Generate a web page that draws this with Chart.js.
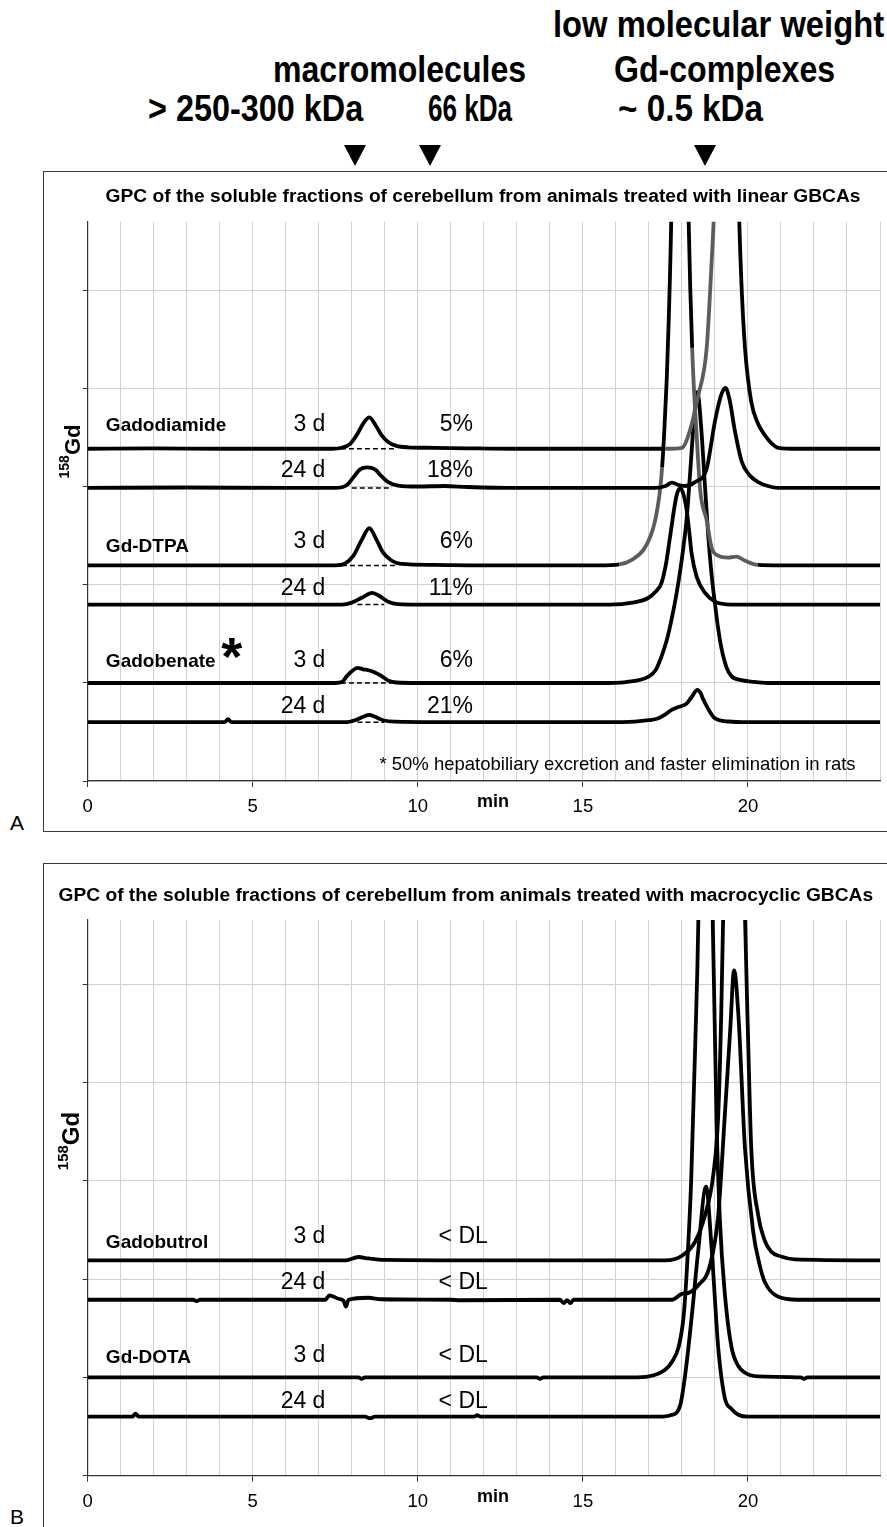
<!DOCTYPE html>
<html>
<head>
<meta charset="utf-8">
<script src="https://cdn.jsdelivr.net/npm/chart.js@4.4.1/dist/chart.umd.min.js"></script>
<style>
html, body { margin: 0; padding: 0; background: #fff; }
body { width: 887px; height: 1527px; position: relative; overflow: hidden;
       font-family: "Liberation Sans", Arial, Helvetica, sans-serif; }
.hd { position: absolute; font-weight: bold; font-size: 36px; line-height: 36px;
      white-space: nowrap; transform-origin: 0 0; color: #000; }
.tri { position: absolute; top: 145px; width: 0; height: 0;
       border-left: 11px solid transparent; border-right: 11px solid transparent;
       border-top: 21px solid #000; }
.panel { position: absolute; left: 43px; width: 846px; }
.panel .cv { position: absolute; left: 0; top: 0; right: 0; bottom: 0; }
.frame { position: absolute; left: 0; top: 0; right: 0; bottom: 0;
         border: 1.5px solid #3a3a3a; box-sizing: border-box; pointer-events: none; }
.tag { position: absolute; left: 10px; font-size: 21px; line-height: 21px; }
</style>
</head>
<body>

<div class="hd" data-x="553" data-w="331" style="top:7px">low molecular weight</div>
<div class="hd" data-x="273" data-w="253" style="top:52px">macromolecules</div>
<div class="hd" data-x="614" data-w="221" style="top:52px">Gd-complexes</div>
<div class="hd" data-x="148" data-w="215" style="top:91px">&gt; 250-300 kDa</div>
<div class="hd" data-x="428" data-w="84" style="top:91px">66 kDa</div>
<div class="hd" data-x="618" data-w="145" style="top:91px">~ 0.5 kDa</div>
<div class="tri" style="left:344px"></div>
<div class="tri" style="left:419px"></div>
<div class="tri" style="left:694px"></div>

<div class="panel" style="top:171px;height:661px">
  <div class="cv"><canvas id="chartA"></canvas></div>
  <div class="frame"></div>
</div>
<div class="tag" style="top:812px">A</div>

<div class="panel" style="top:863px;height:670px">
  <div class="cv"><canvas id="chartB"></canvas></div>
  <div class="frame"></div>
</div>
<div class="tag" style="top:1506px">B</div>

<script>
const FONT = '"Liberation Sans", Arial, Helvetica, sans-serif';
Chart.defaults.font.family = FONT;

// x axis labels (min)
const xTickLabels = [0, 5, 10, 15, 20];

// ---- panel A: linear GBCAs, [min, signal] ----
const gadodiamide3d = [
  [0, 3.39], [2, 3.395], [4, 3.39], [6, 3.39], [7.4, 3.39], [7.7, 3.40], [7.95, 3.44],
  [8.15, 3.53], [8.35, 3.65], [8.53, 3.71], [8.72, 3.63], [8.9, 3.53], [9.1, 3.46],
  [9.35, 3.42], [9.7, 3.405], [10.5, 3.40], [11.5, 3.395], [13, 3.39], [15, 3.39],
  [16.5, 3.39], [17.5, 3.39], [18.0, 3.40], [18.2, 3.53], [18.5, 3.94], [18.75, 4.42],
  [18.9, 5.3], [18.98, 5.9], [19.35, 12], [19.73, 5.8], [19.8, 5.1], [19.91, 4.42],
  [20.1, 3.87], [20.3, 3.65], [20.51, 3.53], [20.7, 3.45], [20.92, 3.40], [21.5, 3.39], [24, 3.39]
];
const gadodiamide24d = [
  [0, 2.99], [3, 2.995], [6, 2.99], [7.5, 2.99], [7.85, 3.02], [8.05, 3.10], [8.25, 3.18],
  [8.47, 3.20], [8.7, 3.18], [8.9, 3.11], [9.1, 3.05], [9.4, 3.015], [10, 3.005], [10.8, 3.01],
  [11.5, 3.0], [13, 2.99], [17.2, 2.99], [17.5, 3.01], [17.7, 3.045], [17.9, 3.02], [18.1, 3.01],
  [18.4, 3.05], [18.75, 3.19], [19.0, 3.67], [19.18, 3.93], [19.32, 4.01], [19.45, 3.88],
  [19.6, 3.58], [19.81, 3.26], [20.05, 3.12], [20.31, 3.05], [20.6, 3.01], [20.92, 2.99], [24, 2.99]
];
const gdDtpa3d = [
  [0, 2.2], [4, 2.2], [7.5, 2.2], [7.8, 2.22], [8.05, 2.30], [8.3, 2.46], [8.53, 2.58],
  [8.75, 2.46], [8.95, 2.33], [9.2, 2.25], [9.5, 2.215], [10.5, 2.205], [12, 2.2], [15.5, 2.2],
  [16.1, 2.21], [16.5, 2.26], [16.84, 2.36], [17.05, 2.5], [17.19, 2.66], [17.32, 2.92],
  [17.4, 3.2], [17.47, 3.6], [17.54, 4.1], [17.6, 4.7], [17.68, 5.8], [17.93, 12], [18.2, 5.78],
  [18.31, 4.42], [18.45, 3.5], [18.56, 2.95], [18.75, 2.66], [18.9, 2.38], [19.1, 2.3],
  [19.4, 2.28], [19.65, 2.29], [19.9, 2.25], [20.3, 2.205], [21, 2.2], [24, 2.2]
];
const gdDtpa24d = [
  [0, 1.8], [4, 1.8], [7.7, 1.8], [8.0, 1.82], [8.3, 1.87], [8.62, 1.92], [8.85, 1.885],
  [9.1, 1.83], [9.4, 1.805], [10, 1.8], [15.8, 1.8], [16.5, 1.82], [16.99, 1.87], [17.2, 1.93],
  [17.38, 2.02], [17.52, 2.22], [17.64, 2.49], [17.83, 2.90], [17.95, 2.99], [18.05, 2.92],
  [18.14, 2.77], [18.22, 2.55], [18.29, 2.33], [18.45, 2.08], [18.7, 1.92], [19.0, 1.83],
  [19.5, 1.8], [24, 1.8]
];
const gadobenate3d = [
  [0, 1.0], [4, 1.0], [7.5, 1.0], [7.7, 1.01], [7.85, 1.07], [8.0, 1.12], [8.17, 1.155],
  [8.35, 1.14], [8.5, 1.13], [8.65, 1.115], [8.8, 1.09], [8.95, 1.06], [9.13, 1.02],
  [9.35, 1.005], [10, 1.0], [15.5, 1.0], [16.3, 1.01], [16.99, 1.065], [17.2, 1.13],
  [17.38, 1.27], [17.55, 1.45], [17.68, 1.64], [17.82, 1.88], [17.95, 2.15], [18.05, 2.4],
  [18.15, 2.7], [18.25, 3.15], [18.35, 3.62], [18.47, 3.97], [18.58, 3.62], [18.7, 3.0],
  [18.8, 2.49], [18.9, 2.1], [19.0, 1.81], [19.1, 1.55], [19.2, 1.35], [19.35, 1.16],
  [19.5, 1.07], [19.8, 1.03], [20.1, 1.015], [20.6, 1.0], [24, 1.0]
];
const gadobenate24d = [
  [0, 0.6], [4.15, 0.6], [4.25, 0.63], [4.35, 0.6], [7.8, 0.6], [8.1, 0.62], [8.35, 0.655],
  [8.53, 0.675], [8.7, 0.655], [8.95, 0.62], [9.3, 0.605], [10.5, 0.6], [16.2, 0.6],
  [16.99, 0.62], [17.29, 0.64], [17.5, 0.68], [17.69, 0.725], [17.85, 0.75], [17.95, 0.76],
  [18.14, 0.79], [18.3, 0.86], [18.47, 0.93], [18.56, 0.9], [18.65, 0.83], [18.85, 0.705],
  [19.0, 0.64], [19.4, 0.607], [20, 0.6], [24, 0.6]
];
// dashed integration baselines: [from, to, level]
const baselinesA = [
  [7.67, 9.28, 3.39], [8.0, 9.22, 2.99], [7.7, 9.35, 2.2],
  [8.17, 8.98, 1.8], [7.67, 9.2, 1.0], [8.17, 8.98, 0.6]
];
const namesA = ['Gadodiamide', 'Gd-DTPA', 'Gadobenate'];
const daysA = ['3 d', '24 d', '3 d', '24 d', '3 d', '24 d'];
const pctA = ['5%', '18%', '6%', '11%', '6%', '21%'];

// ---- panel B: macrocyclic GBCAs ----
const gadobutrol3d = [
  [0, 2.19], [4, 2.19], [7.8, 2.19], [8.2, 2.225], [8.5, 2.21], [9, 2.195], [12, 2.19],
  [17.5, 2.19], [17.99, 2.235], [18.4, 2.38], [18.7, 2.65], [18.95, 3.06], [19.1, 3.67],
  [19.19, 4.69], [19.25, 5.7], [19.58, 12], [19.91, 5.7], [20.0, 4.5], [20.1, 3.33],
  [20.31, 2.65], [20.5, 2.4], [20.7, 2.28], [21.0, 2.23], [21.42, 2.2], [24, 2.19]
];
const gadobutrol24d = [
  [0, 1.79], [3.2, 1.79], [3.3, 1.775], [3.4, 1.79], [7.2, 1.79], [7.32, 1.835], [7.45, 1.82],
  [7.6, 1.8], [7.75, 1.78], [7.82, 1.72], [7.9, 1.79], [8.5, 1.81], [8.9, 1.795], [11.0, 1.79],
  [11.3, 1.785], [14.3, 1.79], [14.42, 1.755], [14.52, 1.785], [14.62, 1.755], [14.72, 1.79],
  [17.7, 1.79], [18.0, 1.85], [18.2, 1.86], [18.5, 1.94], [18.85, 2.14], [19.1, 2.65],
  [19.3, 3.67], [19.46, 4.52], [19.58, 5.14], [19.71, 4.69], [19.91, 3.33], [20.16, 2.48],
  [20.35, 2.15], [20.51, 1.97], [20.92, 1.82], [21.5, 1.79], [24, 1.79]
];
const gdDota3d = [
  [0, 1.0], [4, 1.0], [8.2, 1.0], [8.3, 0.985], [8.4, 1.0], [13.6, 1.0], [13.7, 0.985],
  [13.8, 1.0], [16.5, 1.0], [17.0, 1.01], [17.5, 1.08], [17.7, 1.16], [17.9, 1.31],
  [18.05, 1.62], [18.15, 2.1], [18.28, 3.0], [18.4, 4.35], [18.5, 5.7], [18.72, 12],
  [18.93, 5.7], [19.05, 3.6], [19.15, 2.6], [19.3, 1.85], [19.5, 1.31], [19.7, 1.12],
  [19.9, 1.05], [20.3, 1.01], [21.6, 1.0], [21.7, 0.985], [21.8, 1.0], [24, 1.0]
];
const gdDota24d = [
  [0, 0.6], [1.35, 0.6], [1.45, 0.63], [1.55, 0.6], [8.4, 0.6], [8.55, 0.585], [8.7, 0.6],
  [11.7, 0.6], [11.8, 0.615], [11.9, 0.6], [17.3, 0.6], [17.68, 0.617], [17.95, 0.72],
  [18.1, 1.03], [18.3, 1.63], [18.5, 2.31], [18.73, 2.94], [18.9, 2.31], [19.1, 1.30],
  [19.3, 0.79], [19.5, 0.68], [19.71, 0.62], [20, 0.6], [24, 0.6]
];
const namesB = ['Gadobutrol', 'Gd-DOTA'];
const daysB = ['3 d', '24 d', '3 d', '24 d'];
const dlB = ['< DL', '< DL', '< DL', '< DL'];

// ---- helpers ----
const pts = arr => arr.map(p => ({ x: p[0], y: p[1] }));

function trace(arr, grey) {
  const ds = {
    data: pts(arr), borderColor: '#000', borderWidth: 3.8, pointRadius: 0,
    cubicInterpolationMode: 'monotone', fill: false
  };
  if (grey) {
    ds.segment = {
      borderColor: c => grey.some(r => c.p0.parsed.x >= r[0] && c.p1.parsed.x <= r[1]) ? '#5c5c5c' : undefined
    };
  }
  return ds;
}

function dashed(b) {
  return {
    data: pts([[b[0], b[2]], [b[1], b[2]]]), borderColor: '#000', borderWidth: 1.5,
    borderDash: [5, 3], pointRadius: 0, fill: false
  };
}

function overlay(o) {
  return {
    id: 'overlay' + o.key,
    afterDraw(chart) {
      const ctx = chart.ctx, xs = chart.scales.x, ys = chart.scales.y;
      const X = v => xs.getPixelForValue(v), Y = v => ys.getPixelForValue(v);
      ctx.save();
      ctx.fillStyle = '#000';
      ctx.textBaseline = 'alphabetic';

      // panel title
      ctx.font = 'bold 19.2px ' + FONT;
      ctx.textAlign = 'center';
      ctx.fillText(o.title, o.titleX, o.titleY);

      // y axis label 158Gd
      ctx.save();
      ctx.translate(o.ylab[0], o.ylab[1]);
      ctx.rotate(-Math.PI / 2);
      const supF = 'bold ' + o.ylab[3] + 'px ' + FONT, gdF = 'bold ' + o.ylab[2] + 'px ' + FONT;
      ctx.font = supF; const w1 = ctx.measureText('158').width;
      ctx.font = gdF; const w2 = ctx.measureText('Gd').width;
      const x0 = -(w1 + w2) / 2;
      ctx.textAlign = 'left';
      ctx.font = supF; ctx.fillText('158', x0, -o.ylab[4]);
      ctx.font = gdF; ctx.fillText('Gd', x0 + w1, 0);
      ctx.restore();

      // compound names
      ctx.font = 'bold 19px ' + FONT;
      ctx.textAlign = 'left';
      o.names.forEach((s, i) => ctx.fillText(s, X(0.55), Y(o.nameY[i])));

      // days
      ctx.font = '23px ' + FONT;
      ctx.textAlign = 'right';
      o.days.forEach((s, i) => ctx.fillText(s, X(7.2), Y(o.rowY[i])));

      // fractions
      ctx.textAlign = o.valAlign;
      o.vals.forEach((s, i) => ctx.fillText(s, X(o.valX), Y(o.rowY[i])));

      // footnote
      if (o.note) {
        ctx.font = '18.5px ' + FONT;
        ctx.textAlign = 'right';
        ctx.fillText(o.note, X(23.26), Y(0.112));
      }
      // big asterisk next to Gadobenate
      if (o.star) {
        ctx.font = 'bold 54px ' + FONT;
        ctx.textAlign = 'center';
        const m = ctx.measureText('*');
        const cy = Y(o.star[1]);
        ctx.fillText('*', X(o.star[0]), cy + (m.actualBoundingBoxAscent - m.actualBoundingBoxDescent) / 2);
      }

      // x axis unit
      ctx.font = 'bold 18px ' + FONT;
      ctx.textAlign = 'center';
      ctx.fillText('min', X(12.28), ys.bottom + 26);
      ctx.restore();
    }
  };
}

function makeChart(id, datasets, yMax, padTop, bottomH, ov) {
  return new Chart(document.getElementById(id), {
    type: 'line',
    data: { datasets },
    options: {
      responsive: true,
      maintainAspectRatio: false,
      animation: false,
      events: [],
      layout: { padding: { top: padTop, right: 7.3, left: 0, bottom: 0 } },
      plugins: { legend: { display: false }, tooltip: { enabled: false }, title: { display: false } },
      scales: {
        x: {
          type: 'linear', min: 0, max: 24,
          afterFit: s => { s.height = bottomH; },
          ticks: {
            stepSize: 1, maxTicksLimit: 100, autoSkip: false, maxRotation: 0, padding: 9,
            color: '#000', font: { size: 18.5 },
            callback: v => xTickLabels.includes(v) ? String(v) : ''
          },
          grid: {
            color: '#d2d2d2', lineWidth: 1, tickLength: 6,
            tickColor: c => (c.tick && xTickLabels.includes(c.tick.value)) ? '#333' : 'rgba(0,0,0,0)'
          },
          border: { color: '#333', width: 1.2 }
        },
        y: {
          min: 0, max: yMax,
          afterFit: s => { s.width = 44.7; },
          ticks: { stepSize: 1, includeBounds: false, padding: 0, callback: () => '' },
          grid: { color: '#d2d2d2', lineWidth: 1, tickLength: 5, tickColor: '#333' },
          border: { color: '#333', width: 1.2 }
        }
      }
    },
    plugins: [overlay(ov)]
  });
}

// ---- panel A ----
makeChart('chartA', [
  trace(gadodiamide3d, [[16.6, 19.0]]),
  trace(gadodiamide24d),
  trace(gdDtpa3d, [[16.0, 17.45], [18.3, 20.4]]),
  trace(gdDtpa24d),
  trace(gadobenate3d),
  trace(gadobenate24d),
  ...baselinesA.map(dashed)
], 5.707, 50.7, 51, {
  key: 'A',
  title: 'GPC of the soluble fractions of cerebellum from animals treated with linear GBCAs',
  titleX: 440, titleY: 31.3,
  ylab: [36.5, 280.5, 22, 14, 10.5],
  names: namesA, nameY: [3.575, 2.34, 1.166],
  days: daysA, vals: pctA, valX: 11.67, valAlign: 'right',
  rowY: [3.575, 3.105, 2.378, 1.898, 1.166, 0.694],
  note: '* 50% hepatobiliary excretion and faster elimination in rats',
  star: [4.36, 1.347]
});

// ---- panel B ----
makeChart('chartB', [
  trace(gadobutrol3d),
  trace(gadobutrol24d),
  trace(gdDota3d),
  trace(gdDota24d)
], 5.653, 57, 57.3, {
  key: 'B',
  title: 'GPC of the soluble fractions of cerebellum from animals treated with macrocyclic GBCAs',
  titleX: 422.8, titleY: 37.7,
  ylab: [36, 278, 24, 15, 11],
  names: namesB, nameY: [2.313, 1.143],
  days: daysB, vals: dlB, valX: 10.63, valAlign: 'left',
  rowY: [2.364, 1.899, 1.16, 0.686],
  note: null, star: null
});

// header captions: fit to measured widths
document.querySelectorAll('.hd').forEach(el => {
  el.style.left = el.dataset.x + 'px';
  el.style.transform = 'scaleX(' + (+el.dataset.w / el.offsetWidth) + ')';
});
</script>
</body>
</html>
